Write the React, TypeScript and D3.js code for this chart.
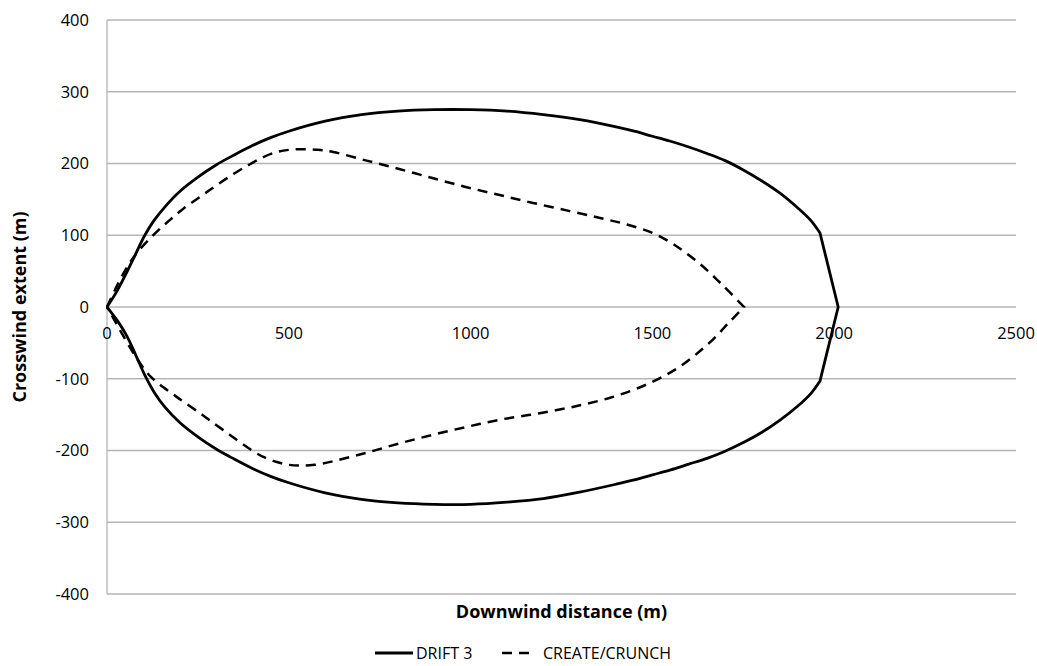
import { useEffect, useRef } from 'react'
import * as d3 from 'd3'

type Pt = [number, number]

// DRIFT 3 footprint, upper and lower edges (downwind m, crosswind m)
const driftUpper: Pt[] = [
  [0, 0], [25, 20], [50, 44], [75, 70], [104, 100], [130, 121], [160, 140],
  [200, 161], [250, 181], [300, 198], [350, 212], [400, 225], [450, 236],
  [500, 245], [600, 259], [700, 268], [800, 273], [900, 275], [1000, 275],
  [1100, 273], [1200, 268], [1300, 261], [1400, 251], [1450, 245],
  [1500, 238], [1550, 231], [1600, 223], [1650, 214], [1700, 204],
  [1750, 191], [1800, 176], [1850, 159], [1900, 138], [1935, 121],
  [1961, 103], [2011, 0],
]
const driftLower: Pt[] = [
  [0, 0], [30, -20], [54, -40], [80, -68], [104, -95], [130, -119],
  [160, -140], [200, -161], [250, -181], [300, -198], [350, -212],
  [400, -225], [450, -236], [500, -245], [600, -259], [700, -268],
  [800, -273], [900, -275], [1000, -275], [1100, -272], [1200, -267],
  [1300, -258], [1400, -247], [1450, -241], [1500, -234], [1550, -227],
  [1600, -219], [1650, -211], [1700, -201], [1750, -189], [1800, -175],
  [1850, -158], [1900, -138], [1935, -121], [1961, -103], [2011, 0],
]
const driftCorners: Pt[] = [[1961, 103], [2011, 0], [1961, -103]]

// CREATE/CRUNCH footprint
const createUpper: Pt[] = [
  [0, 0], [25, 27], [50, 51], [80, 74], [127, 100], [170, 120], [210, 137],
  [260, 155], [302, 170], [350, 186], [393, 199], [430, 209], [467, 216],
  [500, 219], [540, 220], [580, 219], [622, 216], [714, 204], [806, 192],
  [900, 179], [989, 167], [1080, 156], [1172, 145], [1270, 134],
  [1356, 124], [1430, 115], [1502, 103], [1550, 90], [1585, 78],
  [1631, 60], [1690, 32], [1752, 0],
]
const createLower: Pt[] = [
  [0, 0], [20, -18], [40, -36], [70, -62], [100, -85], [120, -97],
  [145, -108], [180, -121], [210, -132], [250, -146], [283, -158],
  [340, -179], [393, -198], [430, -209], [467, -216], [500, -220],
  [531, -221], [570, -220], [622, -215], [714, -203], [805, -190],
  [897, -178], [990, -167], [1081, -157], [1190, -148], [1301, -137],
  [1400, -124], [1484, -108], [1540, -94], [1576, -83], [1620, -66],
  [1667, -45], [1710, -22], [1752, 0],
]
const createCorners: Pt[] = [[1752, 0]]

const xTicks = [0, 500, 1000, 1500, 2000, 2500]
const yTicks = [-400, -300, -200, -100, 0, 100, 200, 300, 400]

const seriesNames = ['DRIFT 3', 'CREATE/CRUNCH']

// origin -> upper edge -> tip -> lower edge -> origin; corner points are
// doubled so the Catmull-Rom curve keeps them sharp
const loop = (upper: Pt[], lower: Pt[], corners: Pt[]): Pt[] => {
  const pts = [...upper, ...lower.slice(0, -1).reverse()]
  const out: Pt[] = []
  pts.forEach(p => {
    out.push(p)
    if (corners.some(c => c[0] === p[0] && c[1] === p[1])) out.push(p)
  })
  return out
}

export default function App() {
  const svgRef = useRef<SVGSVGElement>(null)

  useEffect(() => {
    if (!svgRef.current) return
    const svg = d3.select(svgRef.current)
    svg.selectAll('*').remove()

    const width = 1037
    const height = 666
    const margin = { top: 20, right: 21, bottom: 72, left: 107 }
    const font = '"Open Sans", "Noto Sans", sans-serif'

    const x = d3.scaleLinear().domain([0, 2500]).range([margin.left, width - margin.right])
    const y = d3.scaleLinear().domain([-400, 400]).range([height - margin.bottom, margin.top])

    svg.attr('width', width).attr('height', height)
    svg.append('rect').attr('width', width).attr('height', height).attr('fill', '#fff')

    // horizontal gridlines
    svg.append('g')
      .selectAll('line')
      .data(yTicks)
      .join('line')
      .attr('x1', x(0))
      .attr('x2', x(2500))
      .attr('y1', d => y(d))
      .attr('y2', d => y(d))
      .attr('stroke', '#b5b5b5')
      .attr('stroke-width', 1.3)

    // vertical axis line
    svg.append('line')
      .attr('x1', x(0)).attr('x2', x(0))
      .attr('y1', y(400)).attr('y2', y(-400))
      .attr('stroke', '#b5b5b5')
      .attr('stroke-width', 1.3)

    // y tick labels
    svg.append('g')
      .selectAll('text')
      .data(yTicks)
      .join('text')
      .attr('x', x(0) - 18)
      .attr('y', d => y(d))
      .attr('dy', '0.35em')
      .attr('text-anchor', 'end')
      .style('font-family', font)
      .style('font-size', '16.5px')
      .attr('fill', '#000')
      .text(d => String(d))

    // x tick labels (below the zero line)
    svg.append('g')
      .selectAll('text')
      .data(xTicks)
      .join('text')
      .attr('x', d => x(d))
      .attr('y', y(0) + 26)
      .attr('dy', '0.35em')
      .attr('text-anchor', 'middle')
      .style('font-family', font)
      .style('font-size', '16.5px')
      .attr('fill', '#000')
      .text(d => String(d))

    const line = d3
      .line<Pt>()
      .x(d => x(d[0]))
      .y(d => y(d[1]))
      .curve(d3.curveCatmullRom.alpha(0.5))

    svg.append('path')
      .datum(loop(driftUpper, driftLower, driftCorners))
      .attr('fill', 'none')
      .attr('stroke', '#000')
      .attr('stroke-width', 2.8)
      .attr('stroke-linejoin', 'round')
      .attr('d', line)

    svg.append('path')
      .datum(loop(createUpper, createLower, createCorners))
      .attr('fill', 'none')
      .attr('stroke', '#000')
      .attr('stroke-width', 2.5)
      .attr('stroke-dasharray', '10,7')
      .attr('d', line)

    // axis titles
    svg.append('text')
      .attr('x', (x(0) + x(2500)) / 2)
      .attr('y', 612)
      .attr('dy', '0.35em')
      .attr('text-anchor', 'middle')
      .style('font-family', font)
      .style('font-size', '18px')
      .style('font-weight', 'bold')
      .text('Downwind distance (m)')

    svg.append('text')
      .attr('transform', `translate(20,${y(0)}) rotate(-90)`)
      .attr('dy', '0.35em')
      .attr('text-anchor', 'middle')
      .style('font-family', font)
      .style('font-size', '18px')
      .style('font-weight', 'bold')
      .text('Crosswind extent (m)')

    // legend
    const legend = svg.append('g').attr('transform', 'translate(0,653)')
    legend.append('line')
      .attr('x1', 375).attr('x2', 413)
      .attr('stroke', '#000').attr('stroke-width', 2.8)
    legend.append('text')
      .attr('x', 416).attr('dy', '0.35em')
      .style('font-family', font).style('font-size', '16px')
      .text(seriesNames[0])
    legend.append('line')
      .attr('x1', 502).attr('x2', 533)
      .attr('stroke', '#000').attr('stroke-width', 2.5)
      .attr('stroke-dasharray', '10,7')
    legend.append('text')
      .attr('x', 543).attr('dy', '0.35em')
      .style('font-family', font).style('font-size', '16px')
      .text(seriesNames[1])
  }, [])

  return (
    <div style={{ position: 'absolute', left: 0, top: 0 }}>
      <svg ref={svgRef} style={{ display: 'block' }} />
    </div>
  )
}
